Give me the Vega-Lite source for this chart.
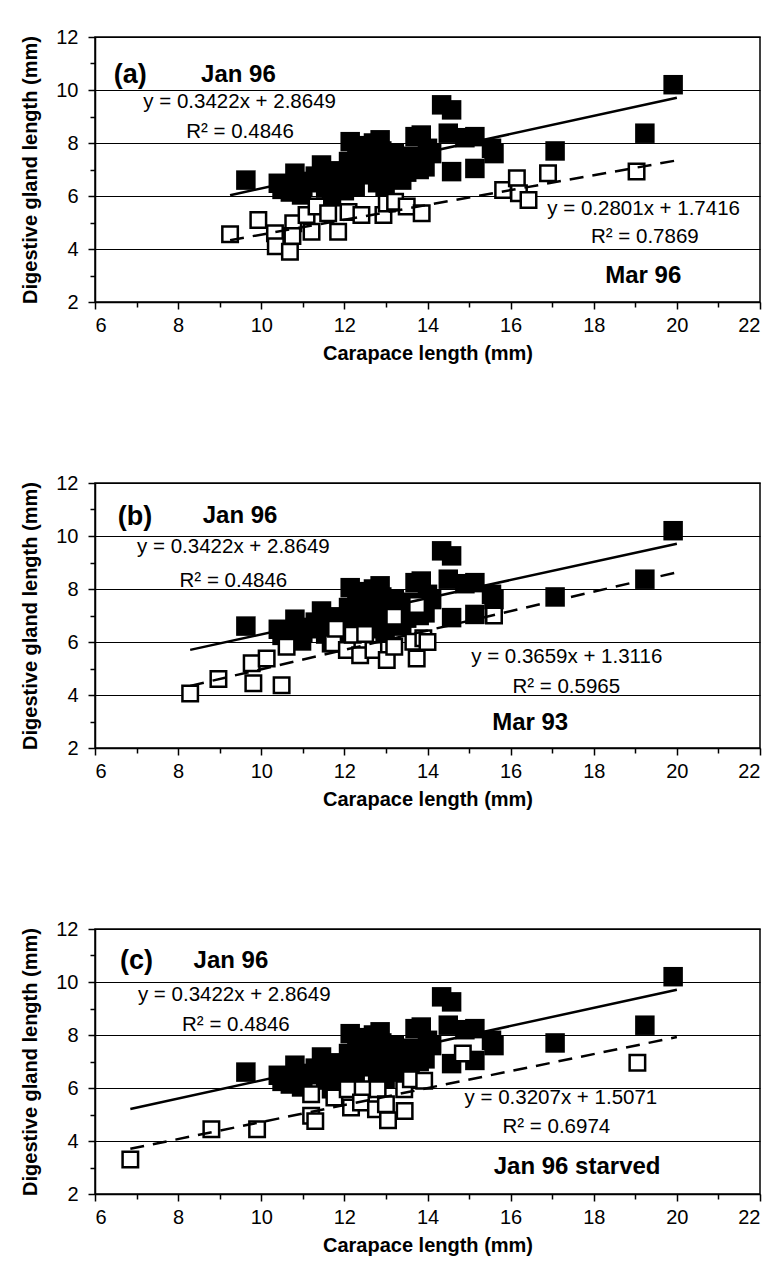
{
  "$schema": "https://vega.github.io/schema/vega-lite/v6.json",
  "background": "white",
  "padding": {"left": 20, "top": 26, "right": 2, "bottom": 5},
  "spacing": 181,
  "bounds": "flush",
  "config": {
    "font": "Liberation Sans",
    "view": {"stroke": "black", "strokeWidth": 1.5},
    "axis": {
      "domainColor": "black", "domainWidth": 1.5,
      "tickColor": "black", "tickWidth": 1.5,
      "labelColor": "black", "labelFont": "Liberation Sans", "labelFontSize": 20,
      "titleColor": "black", "titleFont": "Liberation Sans", "titleFontSize": 20, "titleFontWeight": "bold"
    }
  },
  "datasets": {
    "jan": [
      {"x": 9.63, "y": 6.60}, {"x": 10.41, "y": 6.48}, {"x": 10.5, "y": 6.25}, {"x": 10.7, "y": 6.15}, {"x": 10.81, "y": 6.86},
      {"x": 10.9, "y": 6.55}, {"x": 11.0, "y": 6.35}, {"x": 10.97, "y": 6.04}, {"x": 11.2, "y": 6.5}, {"x": 11.3, "y": 6.75},
      {"x": 11.45, "y": 7.17}, {"x": 11.5, "y": 6.9}, {"x": 11.55, "y": 6.3}, {"x": 11.69, "y": 5.97}, {"x": 11.8, "y": 6.6},
      {"x": 11.9, "y": 6.95}, {"x": 12.0, "y": 6.2}, {"x": 12.05, "y": 6.55}, {"x": 12.1, "y": 7.3}, {"x": 12.14, "y": 8.05},
      {"x": 12.2, "y": 7.0}, {"x": 12.26, "y": 6.35}, {"x": 12.3, "y": 7.6}, {"x": 12.4, "y": 7.9}, {"x": 12.5, "y": 6.8},
      {"x": 12.5, "y": 7.2}, {"x": 12.6, "y": 7.5}, {"x": 12.7, "y": 8.0}, {"x": 12.8, "y": 6.5}, {"x": 12.8, "y": 7.0},
      {"x": 12.86, "y": 8.12}, {"x": 12.9, "y": 7.7}, {"x": 12.98, "y": 6.35}, {"x": 13.0, "y": 7.3}, {"x": 13.1, "y": 6.9},
      {"x": 13.2, "y": 7.6}, {"x": 13.38, "y": 6.6}, {"x": 13.4, "y": 7.2}, {"x": 13.5, "y": 6.9}, {"x": 13.6, "y": 7.5},
      {"x": 13.7, "y": 8.24}, {"x": 13.8, "y": 7.0}, {"x": 13.85, "y": 8.3}, {"x": 13.94, "y": 7.1}, {"x": 13.9, "y": 7.4},
      {"x": 14.0, "y": 7.8}, {"x": 14.1, "y": 7.6}, {"x": 14.34, "y": 9.44}, {"x": 14.58, "y": 9.25}, {"x": 14.5, "y": 8.37},
      {"x": 14.58, "y": 6.92}, {"x": 14.9, "y": 8.2}, {"x": 15.14, "y": 8.24}, {"x": 15.14, "y": 7.04}, {"x": 15.54, "y": 7.8},
      {"x": 15.6, "y": 7.6}, {"x": 17.07, "y": 7.7}, {"x": 19.23, "y": 8.37}, {"x": 19.91, "y": 10.2}
    ],
    "mar96": [
      {"x": 9.25, "y": 4.56}, {"x": 9.93, "y": 5.09}, {"x": 10.33, "y": 4.59}, {"x": 10.35, "y": 4.1}, {"x": 10.69, "y": 3.9},
      {"x": 10.77, "y": 4.97}, {"x": 10.75, "y": 4.49}, {"x": 11.09, "y": 5.28}, {"x": 11.21, "y": 4.65}, {"x": 11.33, "y": 5.6},
      {"x": 11.61, "y": 5.35}, {"x": 11.85, "y": 4.65}, {"x": 12.1, "y": 5.4}, {"x": 12.41, "y": 5.28}, {"x": 12.94, "y": 5.28},
      {"x": 13.02, "y": 5.72}, {"x": 13.22, "y": 5.78}, {"x": 13.5, "y": 5.6}, {"x": 13.86, "y": 5.35}, {"x": 15.82, "y": 6.23},
      {"x": 16.15, "y": 6.67}, {"x": 16.2, "y": 6.1}, {"x": 16.43, "y": 5.85}, {"x": 16.9, "y": 6.86}, {"x": 19.03, "y": 6.92}
    ],
    "mar93": [
      {"x": 8.29, "y": 4.06}, {"x": 8.97, "y": 4.6}, {"x": 9.77, "y": 5.2}, {"x": 9.81, "y": 4.44}, {"x": 10.13, "y": 5.38},
      {"x": 10.49, "y": 4.37}, {"x": 10.61, "y": 5.82}, {"x": 11.73, "y": 5.95}, {"x": 11.8, "y": 6.5}, {"x": 12.06, "y": 5.7},
      {"x": 12.2, "y": 6.27}, {"x": 12.38, "y": 5.5}, {"x": 12.5, "y": 6.3}, {"x": 12.7, "y": 5.7}, {"x": 13.02, "y": 5.32},
      {"x": 13.2, "y": 6.95}, {"x": 13.2, "y": 5.82}, {"x": 13.66, "y": 6.01}, {"x": 13.74, "y": 5.38}, {"x": 13.9, "y": 6.14},
      {"x": 13.75, "y": 7.4}, {"x": 14.0, "y": 6.0}, {"x": 15.6, "y": 7.0}
    ],
    "starved": [
      {"x": 6.85, "y": 3.3}, {"x": 8.8, "y": 4.44}, {"x": 9.9, "y": 4.44}, {"x": 11.2, "y": 5.76}, {"x": 11.2, "y": 4.95},
      {"x": 11.3, "y": 4.75}, {"x": 11.76, "y": 5.64}, {"x": 12.08, "y": 5.95}, {"x": 12.16, "y": 5.26}, {"x": 12.44, "y": 5.95},
      {"x": 12.4, "y": 5.45}, {"x": 12.8, "y": 5.95}, {"x": 12.76, "y": 5.2}, {"x": 13.05, "y": 4.78}, {"x": 13.0, "y": 5.39},
      {"x": 13.44, "y": 5.95}, {"x": 13.45, "y": 5.13}, {"x": 13.6, "y": 6.33}, {"x": 13.92, "y": 6.27}, {"x": 14.85, "y": 7.3},
      {"x": 19.05, "y": 6.95}
    ],
    "fits": [
      {"panel": "a", "series": "jan", "x": 9.25, "y": 6.030}, {"panel": "a", "series": "jan", "x": 20, "y": 9.709},
      {"panel": "a", "series": "other", "x": 9.25, "y": 4.333}, {"panel": "a", "series": "other", "x": 20, "y": 7.344},
      {"panel": "b", "series": "jan", "x": 8.29, "y": 5.702}, {"panel": "b", "series": "jan", "x": 20, "y": 9.709},
      {"panel": "b", "series": "other", "x": 8.29, "y": 4.345}, {"panel": "b", "series": "other", "x": 20, "y": 8.630},
      {"panel": "c", "series": "jan", "x": 6.85, "y": 5.209}, {"panel": "c", "series": "jan", "x": 20, "y": 9.709},
      {"panel": "c", "series": "other", "x": 6.85, "y": 3.704}, {"panel": "c", "series": "other", "x": 20, "y": 7.921}
    ],
    "notes": [
      {"panel": "a", "kind": "letter", "text": "(a)", "x": 6.85, "y": 10.26},
      {"panel": "a", "kind": "label", "text": "Jan 96", "x": 9.45, "y": 10.32},
      {"panel": "a", "kind": "label", "text": "Mar 96", "x": 19.19, "y": 2.70},
      {"panel": "a", "kind": "eq", "text": "y = 0.3422x + 2.8649", "x": 9.48, "y": 9.32},
      {"panel": "a", "kind": "eq", "text": "R² = 0.4846", "x": 9.49, "y": 8.18},
      {"panel": "a", "kind": "eq", "text": "y = 0.2801x + 1.7416", "x": 19.2, "y": 5.28},
      {"panel": "a", "kind": "eq", "text": "R² = 0.7869", "x": 19.23, "y": 4.21},
      {"panel": "b", "kind": "letter", "text": "(b)", "x": 6.96, "y": 10.42},
      {"panel": "b", "kind": "label", "text": "Jan 96", "x": 9.49, "y": 10.49},
      {"panel": "b", "kind": "label", "text": "Mar 93", "x": 16.47, "y": 2.67},
      {"panel": "b", "kind": "eq", "text": "y = 0.3422x + 2.8649", "x": 9.33, "y": 9.35},
      {"panel": "b", "kind": "eq", "text": "R² = 0.4846", "x": 9.33, "y": 8.09},
      {"panel": "b", "kind": "eq", "text": "y = 0.3659x + 1.3116", "x": 17.35, "y": 5.19},
      {"panel": "b", "kind": "eq", "text": "R² = 0.5965", "x": 17.34, "y": 4.06},
      {"panel": "c", "kind": "letter", "text": "(c)", "x": 7.0, "y": 10.49},
      {"panel": "c", "kind": "label", "text": "Jan 96", "x": 9.27, "y": 10.51},
      {"panel": "c", "kind": "label", "text": "Jan 96 starved", "x": 17.6, "y": 2.74},
      {"panel": "c", "kind": "eq", "text": "y = 0.3422x + 2.8649", "x": 9.35, "y": 9.29},
      {"panel": "c", "kind": "eq", "text": "R² = 0.4846", "x": 9.39, "y": 8.16},
      {"panel": "c", "kind": "eq", "text": "y = 0.3207x + 1.5071", "x": 17.21, "y": 5.38},
      {"panel": "c", "kind": "eq", "text": "R² = 0.6974", "x": 17.1, "y": 4.31}
    ]
  },
  "vconcat": [
    {
      "width": 665, "height": 265,
      "encoding": {
        "x": {"field": "x", "type": "quantitative", "scale": {"domain": [6, 22], "nice": false, "zero": false},
          "axis": {"title": "Carapace length (mm)", "values": [6,7,8,9,10,11,12,13,14,15,16,17,18,19,20,21,22],
            "labelExpr": "datum.value % 2 === 0 ? datum.label : ''", "grid": false,
            "tickSize": {"condition": {"test": "datum.value % 2 === 0", "value": 7}, "value": 5},
            "labelPadding": 6, "titlePadding": 8}},
        "y": {"field": "y", "type": "quantitative", "scale": {"domain": [2, 12], "nice": false, "zero": false},
          "axis": {"title": "Digestive gland length (mm)", "values": [2,3,4,5,6,7,8,9,10,11,12],
            "labelExpr": "datum.value % 2 === 0 ? datum.label : ''", "grid": true, "gridColor": "black", "gridWidth": 1,
            "gridOpacity": {"condition": {"test": "datum.value % 2 === 0", "value": 1}, "value": 0},
            "tickSize": {"condition": {"test": "datum.value % 2 === 0", "value": 7}, "value": 5},
            "labelPadding": 10, "titlePadding": 15}}
      },
      "layer": [
        {"data": {"name": "jan"}, "mark": {"type": "square", "size": 380, "filled": true, "color": "black", "opacity": 1}},
        {"data": {"name": "mar96"}, "mark": {"type": "square", "size": 240, "filled": true, "fill": "white", "stroke": "black", "strokeWidth": 2.5, "opacity": 1}},
        {"data": {"name": "fits"}, "transform": [{"filter": "datum.panel === 'a' && datum.series === 'jan'"}], "mark": {"type": "line", "color": "black", "strokeWidth": 2.5}},
        {"data": {"name": "fits"}, "transform": [{"filter": "datum.panel === 'a' && datum.series === 'other'"}], "mark": {"type": "line", "color": "black", "strokeWidth": 2.5, "strokeDash": [14, 9]}},
        {"data": {"name": "notes"}, "transform": [{"filter": "datum.panel === 'a' && datum.kind === 'letter'"}], "mark": {"type": "text", "font": "Liberation Sans", "fontSize": 27, "fontWeight": "bold", "align": "center", "baseline": "alphabetic", "color": "black"}, "encoding": {"text": {"field": "text"}}},
        {"data": {"name": "notes"}, "transform": [{"filter": "datum.panel === 'a' && datum.kind === 'label'"}], "mark": {"type": "text", "font": "Liberation Sans", "fontSize": 24, "fontWeight": "bold", "align": "center", "baseline": "alphabetic", "color": "black"}, "encoding": {"text": {"field": "text"}}},
        {"data": {"name": "notes"}, "transform": [{"filter": "datum.panel === 'a' && datum.kind === 'eq'"}], "mark": {"type": "text", "font": "Liberation Sans", "fontSize": 20.5, "align": "center", "baseline": "alphabetic", "color": "black"}, "encoding": {"text": {"field": "text"}}}
      ]
    },
    {
      "width": 665, "height": 265,
      "encoding": {
        "x": {"field": "x", "type": "quantitative", "scale": {"domain": [6, 22], "nice": false, "zero": false},
          "axis": {"title": "Carapace length (mm)", "values": [6,7,8,9,10,11,12,13,14,15,16,17,18,19,20,21,22],
            "labelExpr": "datum.value % 2 === 0 ? datum.label : ''", "grid": false,
            "tickSize": {"condition": {"test": "datum.value % 2 === 0", "value": 7}, "value": 5},
            "labelPadding": 6, "titlePadding": 8}},
        "y": {"field": "y", "type": "quantitative", "scale": {"domain": [2, 12], "nice": false, "zero": false},
          "axis": {"title": "Digestive gland length (mm)", "values": [2,3,4,5,6,7,8,9,10,11,12],
            "labelExpr": "datum.value % 2 === 0 ? datum.label : ''", "grid": true, "gridColor": "black", "gridWidth": 1,
            "gridOpacity": {"condition": {"test": "datum.value % 2 === 0", "value": 1}, "value": 0},
            "tickSize": {"condition": {"test": "datum.value % 2 === 0", "value": 7}, "value": 5},
            "labelPadding": 10, "titlePadding": 15}}
      },
      "layer": [
        {"data": {"name": "jan"}, "mark": {"type": "square", "size": 380, "filled": true, "color": "black", "opacity": 1}},
        {"data": {"name": "mar93"}, "mark": {"type": "square", "size": 240, "filled": true, "fill": "white", "stroke": "black", "strokeWidth": 2.5, "opacity": 1}},
        {"data": {"name": "fits"}, "transform": [{"filter": "datum.panel === 'b' && datum.series === 'jan'"}], "mark": {"type": "line", "color": "black", "strokeWidth": 2.5}},
        {"data": {"name": "fits"}, "transform": [{"filter": "datum.panel === 'b' && datum.series === 'other'"}], "mark": {"type": "line", "color": "black", "strokeWidth": 2.5, "strokeDash": [14, 9]}},
        {"data": {"name": "notes"}, "transform": [{"filter": "datum.panel === 'b' && datum.kind === 'letter'"}], "mark": {"type": "text", "font": "Liberation Sans", "fontSize": 27, "fontWeight": "bold", "align": "center", "baseline": "alphabetic", "color": "black"}, "encoding": {"text": {"field": "text"}}},
        {"data": {"name": "notes"}, "transform": [{"filter": "datum.panel === 'b' && datum.kind === 'label'"}], "mark": {"type": "text", "font": "Liberation Sans", "fontSize": 24, "fontWeight": "bold", "align": "center", "baseline": "alphabetic", "color": "black"}, "encoding": {"text": {"field": "text"}}},
        {"data": {"name": "notes"}, "transform": [{"filter": "datum.panel === 'b' && datum.kind === 'eq'"}], "mark": {"type": "text", "font": "Liberation Sans", "fontSize": 20.5, "align": "center", "baseline": "alphabetic", "color": "black"}, "encoding": {"text": {"field": "text"}}}
      ]
    },
    {
      "width": 665, "height": 265,
      "encoding": {
        "x": {"field": "x", "type": "quantitative", "scale": {"domain": [6, 22], "nice": false, "zero": false},
          "axis": {"title": "Carapace length (mm)", "values": [6,7,8,9,10,11,12,13,14,15,16,17,18,19,20,21,22],
            "labelExpr": "datum.value % 2 === 0 ? datum.label : ''", "grid": false,
            "tickSize": {"condition": {"test": "datum.value % 2 === 0", "value": 7}, "value": 5},
            "labelPadding": 6, "titlePadding": 8}},
        "y": {"field": "y", "type": "quantitative", "scale": {"domain": [2, 12], "nice": false, "zero": false},
          "axis": {"title": "Digestive gland length (mm)", "values": [2,3,4,5,6,7,8,9,10,11,12],
            "labelExpr": "datum.value % 2 === 0 ? datum.label : ''", "grid": true, "gridColor": "black", "gridWidth": 1,
            "gridOpacity": {"condition": {"test": "datum.value % 2 === 0", "value": 1}, "value": 0},
            "tickSize": {"condition": {"test": "datum.value % 2 === 0", "value": 7}, "value": 5},
            "labelPadding": 10, "titlePadding": 15}}
      },
      "layer": [
        {"data": {"name": "jan"}, "mark": {"type": "square", "size": 380, "filled": true, "color": "black", "opacity": 1}},
        {"data": {"name": "starved"}, "mark": {"type": "square", "size": 240, "filled": true, "fill": "white", "stroke": "black", "strokeWidth": 2.5, "opacity": 1}},
        {"data": {"name": "fits"}, "transform": [{"filter": "datum.panel === 'c' && datum.series === 'jan'"}], "mark": {"type": "line", "color": "black", "strokeWidth": 2.5}},
        {"data": {"name": "fits"}, "transform": [{"filter": "datum.panel === 'c' && datum.series === 'other'"}], "mark": {"type": "line", "color": "black", "strokeWidth": 2.5, "strokeDash": [14, 9]}},
        {"data": {"name": "notes"}, "transform": [{"filter": "datum.panel === 'c' && datum.kind === 'letter'"}], "mark": {"type": "text", "font": "Liberation Sans", "fontSize": 27, "fontWeight": "bold", "align": "center", "baseline": "alphabetic", "color": "black"}, "encoding": {"text": {"field": "text"}}},
        {"data": {"name": "notes"}, "transform": [{"filter": "datum.panel === 'c' && datum.kind === 'label'"}], "mark": {"type": "text", "font": "Liberation Sans", "fontSize": 24, "fontWeight": "bold", "align": "center", "baseline": "alphabetic", "color": "black"}, "encoding": {"text": {"field": "text"}}},
        {"data": {"name": "notes"}, "transform": [{"filter": "datum.panel === 'c' && datum.kind === 'eq'"}], "mark": {"type": "text", "font": "Liberation Sans", "fontSize": 20.5, "align": "center", "baseline": "alphabetic", "color": "black"}, "encoding": {"text": {"field": "text"}}}
      ]
    }
  ]
}
